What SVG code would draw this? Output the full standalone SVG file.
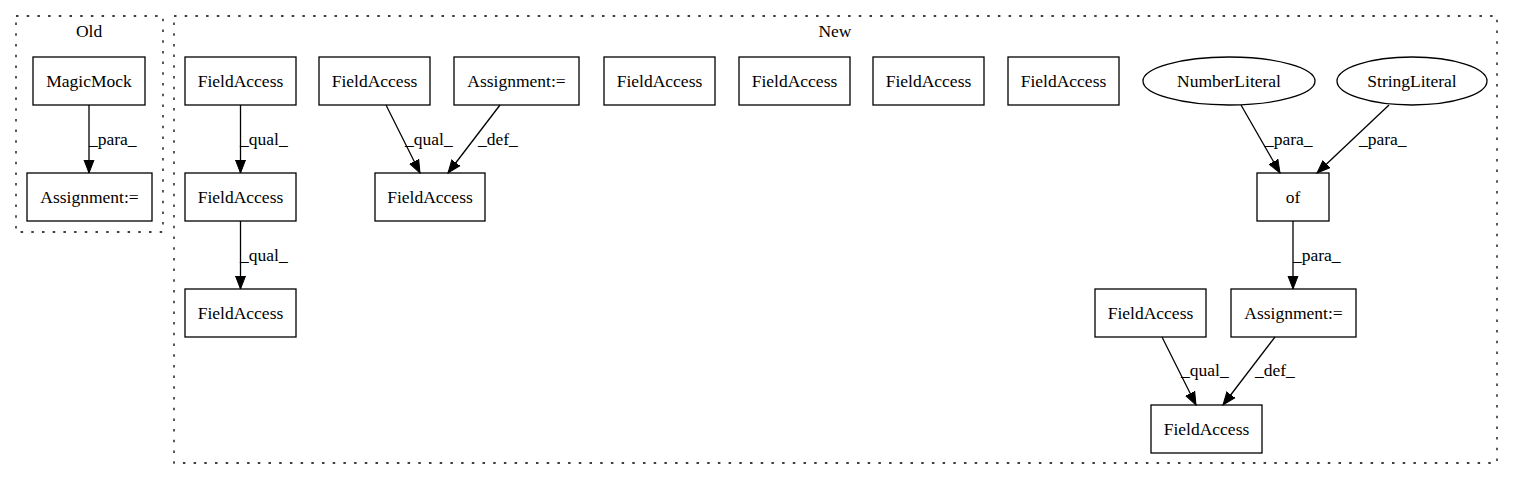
<svg xmlns="http://www.w3.org/2000/svg" width="1513" height="480" viewBox="0 0 1513 480" font-family="'Liberation Serif', 'DejaVu Serif', 'Times New Roman', serif" font-size="17.5">
<style>
.cl{fill:none;stroke:#000;stroke-width:1.3;stroke-dasharray:2.5,8.2}
.n rect,.n ellipse{fill:#fff;stroke:#000;stroke-width:1.3}
text{font-family:'Liberation Serif','DejaVu Serif','Times New Roman',serif;font-size:17.5px;fill:#000}
.n text,.t{text-anchor:middle}
.e line{stroke:#000;stroke-width:1.3}
</style>
<defs>
<marker id="ah" markerUnits="userSpaceOnUse" markerWidth="14" markerHeight="12" refX="13" refY="5" orient="auto" viewBox="0 0 14 10">
<path d="M0,0 L13,5 L0,10 z" fill="#000" stroke="#000" stroke-width="1"/>
</marker>
</defs>
<rect width="1513" height="480" fill="#fff"/>
<g id="cluster_old">
<rect class="cl" x="16" y="16" width="147" height="216"/>
<text class="t" x="89" y="37">Old</text>
</g>
<g id="cluster_new">
<rect class="cl" x="174" y="16" width="1323" height="447"/>
<text class="t" x="835" y="37">New</text>
</g>
<g id="old_magicmock" class="n"><rect x="33" y="57" width="112" height="48"/><text x="89" y="87">MagicMock</text></g>
<g id="old_assign" class="n"><rect x="27" y="173" width="125" height="48"/><text x="89.5" y="203">Assignment:=</text></g>
<g id="fa1" class="n"><rect x="185" y="57" width="111" height="48"/><text x="240.5" y="87">FieldAccess</text></g>
<g id="fa2" class="n"><rect x="185" y="173" width="111" height="48"/><text x="240.5" y="203">FieldAccess</text></g>
<g id="fa3" class="n"><rect x="185" y="289" width="111" height="48"/><text x="240.5" y="319">FieldAccess</text></g>
<g id="fa4" class="n"><rect x="319" y="57" width="111" height="48"/><text x="374.5" y="87">FieldAccess</text></g>
<g id="assign2" class="n"><rect x="454" y="57" width="125" height="48"/><text x="516.5" y="87">Assignment:=</text></g>
<g id="fa5" class="n"><rect x="375" y="173" width="110" height="48"/><text x="430" y="203">FieldAccess</text></g>
<g id="fa8" class="n"><rect x="604" y="57" width="111" height="48"/><text x="659.5" y="87">FieldAccess</text></g>
<g id="fa9" class="n"><rect x="739" y="57" width="111" height="48"/><text x="794.5" y="87">FieldAccess</text></g>
<g id="fa10" class="n"><rect x="873" y="57" width="111" height="48"/><text x="928.5" y="87">FieldAccess</text></g>
<g id="fa11" class="n"><rect x="1008" y="57" width="111" height="48"/><text x="1063.5" y="87">FieldAccess</text></g>
<g id="numlit" class="n"><ellipse cx="1229" cy="81" rx="86" ry="24"/><text x="1229" y="87">NumberLiteral</text></g>
<g id="strlit" class="n"><ellipse cx="1412" cy="81" rx="75" ry="24"/><text x="1412" y="87">StringLiteral</text></g>
<g id="of" class="n"><rect x="1257" y="173" width="72" height="48"/><text x="1293" y="203">of</text></g>
<g id="fa6" class="n"><rect x="1095" y="289" width="111" height="48"/><text x="1150.5" y="319">FieldAccess</text></g>
<g id="assign3" class="n"><rect x="1231" y="289" width="125" height="48"/><text x="1293.5" y="319">Assignment:=</text></g>
<g id="fa7" class="n"><rect x="1151" y="405" width="111" height="48"/><text x="1206.5" y="435">FieldAccess</text></g>
<g id="edges" class="e">
<line x1="89" y1="105" x2="89" y2="173" marker-end="url(#ah)"/>
<text x="89" y="145">_para_</text>
<line x1="240.5" y1="105" x2="240.5" y2="173" marker-end="url(#ah)"/>
<text x="240" y="145">_qual_</text>
<line x1="240.5" y1="221" x2="240.5" y2="289" marker-end="url(#ah)"/>
<text x="240" y="261">_qual_</text>
<line x1="386" y1="105" x2="420" y2="173" marker-end="url(#ah)"/>
<text x="405" y="145">_qual_</text>
<line x1="500" y1="105" x2="448" y2="173" marker-end="url(#ah)"/>
<text x="478" y="145">_def_</text>
<line x1="1241" y1="105" x2="1280" y2="173" marker-end="url(#ah)"/>
<text x="1265" y="145">_para_</text>
<line x1="1389" y1="105" x2="1317" y2="173" marker-end="url(#ah)"/>
<text x="1359" y="145">_para_</text>
<line x1="1293" y1="221" x2="1293" y2="289" marker-end="url(#ah)"/>
<text x="1293" y="261">_para_</text>
<line x1="1162" y1="337" x2="1196" y2="405" marker-end="url(#ah)"/>
<text x="1181" y="376">_qual_</text>
<line x1="1275" y1="337" x2="1223" y2="405" marker-end="url(#ah)"/>
<text x="1255" y="376">_def_</text>
</g>
</svg>
